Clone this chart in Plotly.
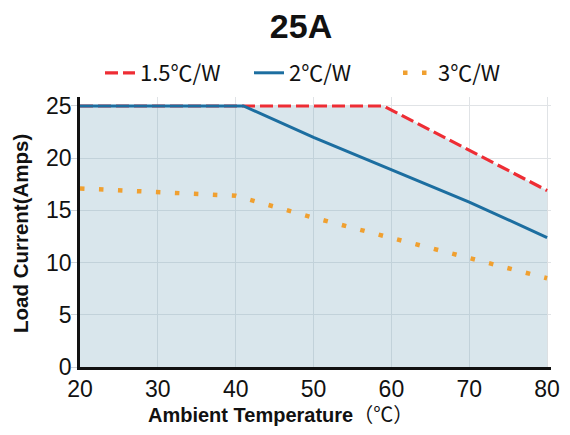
import plotly.graph_objects as go

# Data
temp_red = [20, 41, 59, 80]
current_red = [25, 25, 25, 16.9]

temp_blue = [20, 41, 50, 60, 70, 80]
current_blue = [25, 25, 22.0, 18.9, 15.8, 12.4]

temp_orange = [20, 30, 40, 50, 60, 70, 80]
current_orange = [17.1, 16.8, 16.4, 14.3, 12.4, 10.5, 8.5]

series_names = ["1.5℃/W", "2℃/W", "3℃/W"]
x_ticks = [20, 30, 40, 50, 60, 70, 80]
y_ticks = [0, 5, 10, 15, 20, 25]

FONT = "Liberation Sans, Arial, Noto Sans CJK SC, sans-serif"
LEGEND_FONT = "Noto Sans CJK SC, Liberation Sans, sans-serif"

# the page body adds an 8px offset; compensate in margins
OFF = 8
PL, PR, PT, PB = 80, 551, 97, 367   # plot-area edges as seen on the page

fig = go.Figure()

# shaded envelope under the 1.5 C/W curve
fig.add_trace(go.Scatter(
    x=temp_red, y=current_red, mode="lines", fill="tozeroy",
    fillcolor="rgba(120,165,186,0.28)", line=dict(width=0, color="rgba(0,0,0,0)"),
    showlegend=False, hoverinfo="skip"))

fig.add_trace(go.Scatter(
    x=temp_red, y=current_red, mode="lines", name=series_names[0],
    line=dict(color="#ee2d34", width=3.2, dash="13px,5px")))

fig.add_trace(go.Scatter(
    x=temp_blue, y=current_blue, mode="lines", name=series_names[1],
    line=dict(color="#1c6ea0", width=3)))

fig.add_trace(go.Scatter(
    x=temp_orange, y=current_orange, mode="lines", name=series_names[2],
    line=dict(color="#f0a030", width=4.5, dash="4.5px,14.5px")))

W, H = 570, 435
pw, ph = PR - PL, PB - PT

fig.update_layout(
    width=W, height=H,
    margin=dict(l=PL - OFF, r=W - (PR - OFF), t=PT - OFF, b=H - (PB - OFF)),
    paper_bgcolor="white", plot_bgcolor="white",
    font=dict(family=FONT, color="#111111"),
    title=dict(text="<b>25A</b>", x=(301 - OFF) / W, xanchor="center", xref="container",
               y=1 - (26 - OFF) / H, yanchor="middle", yref="container",
               font=dict(size=34, color="#111111", family=FONT)),
    legend=dict(orientation="h", xref="paper", yref="paper",
                x=(100 - PL) / pw, xanchor="left",
                y=(PB - 73) / ph, yanchor="middle",
                font=dict(size=22, color="#111111", family=LEGEND_FONT),
                itemwidth=30, entrywidth=104, entrywidthmode="pixels",
                bgcolor="rgba(0,0,0,0)"),
    showlegend=True,
)

fig.update_xaxes(
    range=[20, 80.5], tickvals=x_ticks, ticktext=[str(v) for v in x_ticks],
    automargin=False,
    showgrid=True, gridcolor="#e0e3e6", gridwidth=1,
    showline=True, linecolor="#111111", linewidth=2.5, layer="above traces",
    ticks="", tickfont=dict(size=23, color="#111111"), zeroline=False)

fig.update_yaxes(
    range=[0, 25.86], tickvals=y_ticks, ticktext=[str(v) for v in y_ticks],
    automargin=False,
    showgrid=True, gridcolor="#e0e3e6", gridwidth=1,
    showline=True, linecolor="#111111", linewidth=2.5, layer="above traces",
    ticks="outside", ticklen=6, tickcolor="#d0d4d8", ticklabelstandoff=-5,
    tickfont=dict(size=23, color="#111111"), zeroline=False)

fig.add_annotation(
    text="<b>Ambient Temperature</b>（℃）", xref="paper", yref="paper",
    x=(280 - PL) / pw, y=-(415 - PB) / ph, xanchor="center", yanchor="middle",
    showarrow=False, font=dict(size=20, color="#111111"))

fig.add_annotation(
    text="<b>Load Current(Amps)</b>", xref="paper", yref="paper",
    x=-(PL - 20) / pw, y=(PB - 234) / ph, xanchor="center", yanchor="middle",
    textangle=-90, showarrow=False, font=dict(size=20.5, color="#111111"))

fig.write_html("out.html")
